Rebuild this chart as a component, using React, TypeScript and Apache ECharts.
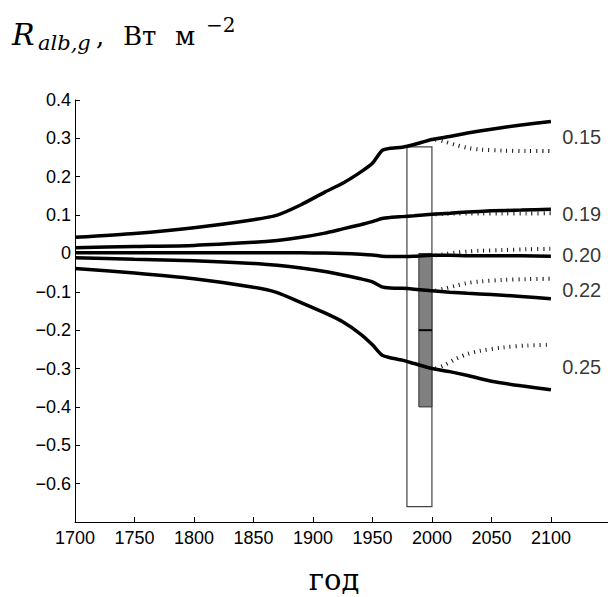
import React, { useEffect, useRef } from "react";
import * as echarts from "echarts";

// ---- data ----
const years = [1700, 1750, 1800, 1850, 1870, 1890, 1910, 1925, 1940, 1950, 1958, 1965, 1975, 1985, 2000, 2015, 2030, 2050, 2075, 2100];
const line015 = [0.042, 0.052, 0.067, 0.088, 0.100, 0.127, 0.160, 0.183, 0.212, 0.235, 0.268, 0.274, 0.277, 0.284, 0.297, 0.305, 0.314, 0.324, 0.335, 0.344];
const line019 = [0.015, 0.018, 0.021, 0.029, 0.034, 0.042, 0.053, 0.064, 0.075, 0.083, 0.091, 0.094, 0.096, 0.098, 0.102, 0.105, 0.108, 0.111, 0.113, 0.115];
const line020 = [0.002, 0.002, 0.002, 0.002, 0.002, 0.002, 0.001, 0.0, -0.002, -0.004, -0.007, -0.008, -0.008, -0.007, -0.005, -0.005, -0.006, -0.006, -0.006, -0.007];
const line022 = [-0.011, -0.015, -0.019, -0.026, -0.031, -0.038, -0.047, -0.056, -0.066, -0.074, -0.087, -0.090, -0.091, -0.093, -0.097, -0.101, -0.104, -0.107, -0.112, -0.118];
const line025 = [-0.039, -0.051, -0.066, -0.088, -0.102, -0.128, -0.155, -0.178, -0.210, -0.238, -0.265, -0.272, -0.278, -0.287, -0.300, -0.308, -0.318, -0.333, -0.345, -0.355];

const dotYears = [2003, 2010, 2020, 2030, 2040, 2060, 2080, 2100];
const dot015 = [0.297, 0.292, 0.283, 0.275, 0.271, 0.268, 0.267, 0.267];
const dot019 = [0.102, 0.103, 0.104, 0.104, 0.104, 0.104, 0.104, 0.105];
const dot020 = [-0.005, -0.002, 0.002, 0.005, 0.007, 0.009, 0.011, 0.012];
const dot022 = [-0.097, -0.092, -0.084, -0.077, -0.073, -0.069, -0.067, -0.066];
const dot025 = [-0.300, -0.292, -0.275, -0.262, -0.254, -0.245, -0.240, -0.238];

const curveNames = ["0.15", "0.19", "0.20", "0.22", "0.25"];
const curveLabelY = [0.304, 0.103, -0.003, -0.095, -0.297];
const curveLabelX = 2109.5;

// boxes: [x0, x1, low, high]
const boxOuter = [1979, 2000, -0.66, 0.278];
const boxInner = [1989, 2000, -0.40, 0.0];
const boxMedian = [1989, 2000, -0.2];

const xTickLabels = ["1700", "1750", "1800", "1850", "1900", "1950", "2000", "2050", "2100"];
const yTickValues = [-0.6, -0.5, -0.4, -0.3, -0.2, -0.1, 0, 0.1, 0.2, 0.3, 0.4];
const yTickLabels = ["\u22120.6", "\u22120.5", "\u22120.4", "\u22120.3", "\u22120.2", "\u22120.1", "0", "0.1", "0.2", "0.3", "0.4"];

const mainLines = [line015, line019, line020, line022, line025];
const dotLines = [dot015, dot019, dot020, dot022, dot025];

export default function App() {
  const ref = useRef<HTMLDivElement>(null);
  useEffect(() => {
    if (!ref.current) return;
    const chart = echarts.init(ref.current, null, { renderer: "svg" });
    const sans = "Liberation Sans";
    const serif = "DejaVu Serif";

    const series: any[] = [];

    series.push({
      type: "custom",
      z: 1,
      silent: true,
      data: [boxOuter, boxInner],
      encode: { x: [0, 1], y: [2, 3] },
      renderItem: (params: any, api: any) => {
        const p0 = api.coord([api.value(0), api.value(3)]);
        const p1 = api.coord([api.value(1), api.value(2)]);
        const outer = params.dataIndex === 0;
        return {
          type: "rect",
          shape: { x: p0[0], y: p0[1], width: p1[0] - p0[0], height: p1[1] - p0[1] },
          style: outer
            ? { fill: "none", stroke: "#444", lineWidth: 1.2 }
            : { fill: "#808080", stroke: "#333", lineWidth: 1 },
        };
      },
    });
    series.push({
      type: "custom",
      z: 3,
      silent: true,
      data: [boxMedian],
      encode: { x: [0, 1], y: 2 },
      renderItem: (_params: any, api: any) => {
        const a = api.coord([api.value(0), api.value(2)]);
        const b = api.coord([api.value(1), api.value(2)]);
        return {
          type: "line",
          shape: { x1: a[0], y1: a[1], x2: b[0], y2: b[1] },
          style: { stroke: "#000", lineWidth: 2 },
        };
      },
    });

    mainLines.forEach((vals, k) => {
      series.push({
        type: "line",
        z: 2,
        name: curveNames[k],
        data: years.map((y, i) => [y, vals[i]]),
        showSymbol: false,
        smooth: 0.2,
        lineStyle: { color: "#000", width: 3.5 },
        silent: true,
      });
    });
    dotLines.forEach((vals, k) => {
      series.push({
        type: "line",
        z: 2,
        name: curveNames[k] + " dotted",
        data: dotYears.map((y, i) => [y, vals[i]]),
        showSymbol: false,
        smooth: 0.3,
        lineStyle: { color: "#111", width: 4, type: [1, 5] },
        silent: true,
      });
    });
    series.push({
      type: "scatter",
      z: 4,
      symbolSize: 0,
      silent: true,
      data: curveNames.map((n, i) => [curveLabelX, curveLabelY[i], n]),
      label: {
        show: true,
        position: "right",
        distance: 0,
        formatter: (p: any) => p.value[2],
        fontFamily: sans,
        fontSize: 20,
        color: "#000",
      },
    });

    const title = (text: string, x: number, y: number, size: number, italic: boolean) => ({
      type: "text",
      x,
      y,
      style: {
        text,
        fontFamily: serif,
        fontSize: size,
        fontStyle: italic ? "italic" : "normal",
        fill: "#000",
        verticalAlign: "middle",
        align: "left",
      },
    });

    chart.setOption({
      animation: false,
      grid: { left: 75, right: 0, top: 100, bottom: 75, containLabel: false },
      xAxis: {
        type: "value",
        min: 1700,
        max: 2148,
        interval: 50,
        axisLine: { show: true, onZero: false, lineStyle: { color: "#000", width: 1 } },
        axisTick: { show: true, inside: true, length: 5, lineStyle: { color: "#000" } },
        axisLabel: {
          showMaxLabel: false,
          margin: 7,
          fontFamily: sans,
          fontSize: 18,
          color: "#000",
          formatter: (v: number) => xTickLabels.find((s) => Number(s) === v) ?? "",
        },
        splitLine: { show: false },
      },
      yAxis: {
        type: "value",
        min: -0.7,
        max: 0.4,
        interval: 0.1,
        axisLine: { show: true, onZero: false, lineStyle: { color: "#000", width: 1 } },
        axisTick: { show: true, inside: true, length: 5, lineStyle: { color: "#000" } },
        axisLabel: {
          showMinLabel: false,
          margin: 4,
          fontFamily: sans,
          fontSize: 18,
          color: "#000",
          formatter: (v: number) => {
            const i = yTickValues.findIndex((t) => Math.abs(t - v) < 1e-6);
            return i >= 0 ? yTickLabels[i] : "";
          },
        },
        splitLine: { show: false },
      },
      graphic: [
        title("R", 12, 34.6, 30, true),
        title("alb,g", 38, 42.7, 21, true),
        title(",", 96, 36, 26, false),
        title("Вт", 123, 36, 26, false),
        title("м", 175, 36, 26, false),
        title("\u22122", 206, 24.8, 20, false),
        {
          type: "text",
          x: 334,
          y: 580,
          style: {
            text: "год",
            fontFamily: serif,
            fontSize: 29,
            fill: "#000",
            verticalAlign: "middle",
            align: "center",
          },
        },
      ],
      series,
    });
    return () => chart.dispose();
  }, []);
  return <div ref={ref} style={{ position: "fixed", left: 0, top: 0, width: 608, height: 597, background: "#fff" }} />;
}
